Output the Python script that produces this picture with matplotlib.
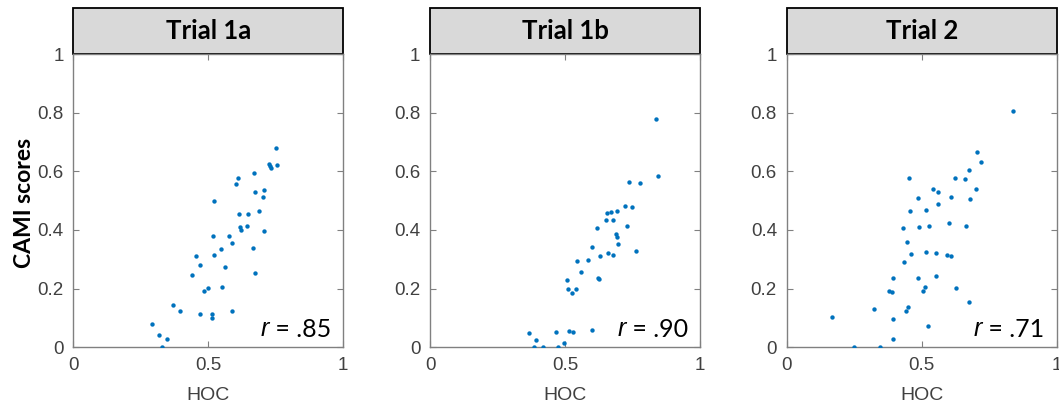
import matplotlib.pyplot as plt
from matplotlib.patches import Rectangle

# HOC vs CAMI scores
hoc_1a = [0.293, 0.316, 0.346, 0.328, 0.369, 0.394, 0.440, 0.456, 0.470, 0.470,
          0.483, 0.499, 0.512, 0.514, 0.517, 0.522, 0.522, 0.547, 0.552, 0.563,
          0.575, 0.589, 0.588, 0.604, 0.609, 0.612, 0.617, 0.622, 0.643, 0.647,
          0.664, 0.670, 0.672, 0.672, 0.688, 0.702, 0.706, 0.707, 0.723, 0.728,
          0.733, 0.749, 0.754]
cami_1a = [0.081, 0.041, 0.030, 0.000, 0.143, 0.124, 0.245, 0.310, 0.281, 0.115,
           0.191, 0.203, 0.112, 0.101, 0.380, 0.314, 0.500, 0.335, 0.207, 0.274,
           0.378, 0.356, 0.123, 0.557, 0.578, 0.456, 0.410, 0.400, 0.414, 0.456,
           0.339, 0.594, 0.530, 0.255, 0.465, 0.514, 0.537, 0.398, 0.624, 0.619,
           0.611, 0.678, 0.623]

hoc_1b = [0.366, 0.385, 0.394, 0.417, 0.467, 0.474, 0.496, 0.509, 0.512, 0.514,
          0.526, 0.530, 0.540, 0.543, 0.559, 0.587, 0.599, 0.601, 0.618, 0.621,
          0.627, 0.630, 0.652, 0.656, 0.661, 0.671, 0.677, 0.678, 0.688, 0.693,
          0.694, 0.698, 0.724, 0.731, 0.736, 0.748, 0.764, 0.777, 0.838, 0.845]
cami_1b = [0.048, 0.000, 0.024, 0.000, 0.052, 0.000, 0.015, 0.230, 0.198, 0.057,
           0.184, 0.052, 0.198, 0.293, 0.256, 0.298, 0.059, 0.342, 0.406, 0.237,
           0.234, 0.311, 0.435, 0.459, 0.323, 0.461, 0.314, 0.435, 0.385, 0.375,
           0.466, 0.352, 0.483, 0.414, 0.564, 0.480, 0.327, 0.560, 0.777, 0.583]

hoc_2 = [0.169, 0.251, 0.322, 0.347, 0.379, 0.390, 0.393, 0.393, 0.393, 0.432,
         0.436, 0.442, 0.446, 0.448, 0.452, 0.457, 0.462, 0.486, 0.488, 0.489,
         0.506, 0.511, 0.516, 0.516, 0.522, 0.527, 0.541, 0.553, 0.554, 0.562,
         0.562, 0.594, 0.601, 0.609, 0.609, 0.622, 0.627, 0.662, 0.665, 0.677,
         0.677, 0.680, 0.700, 0.704, 0.720, 0.838]
cami_2 = [0.102, 0.000, 0.130, 0.000, 0.192, 0.190, 0.235, 0.097, 0.027, 0.407,
          0.292, 0.123, 0.359, 0.139, 0.578, 0.464, 0.318, 0.237, 0.510, 0.411,
          0.191, 0.204, 0.324, 0.468, 0.073, 0.414, 0.540, 0.323, 0.244, 0.531,
          0.490, 0.315, 0.425, 0.312, 0.512, 0.576, 0.202, 0.574, 0.415, 0.156,
          0.603, 0.505, 0.540, 0.665, 0.631, 0.806]

titles = ["Trial 1a", "Trial 1b", "Trial 2"]
r_labels = [".85", ".90", ".71"]
panels = [(hoc_1a, cami_1a), (hoc_1b, cami_1b), (hoc_2, cami_2)]

W, H = 1059, 404
fig = plt.figure(figsize=(W / 100, H / 100), dpi=100)

lefts = [73.3, 430, 786.7]
ax_w = 270
ax_bottom = 347.3
ax_h = 293.3
box_h = 46

for i, (xs, ys) in enumerate(panels):
    ax = fig.add_axes([lefts[i] / W, (H - ax_bottom) / H, ax_w / W, ax_h / H])
    ax.scatter(xs, ys, s=10, color='#0072BD', linewidths=0, zorder=3)
    ax.set_xlim(0, 1)
    ax.set_ylim(0, 1)
    ax.set_xticks([0, 0.5, 1])
    ax.set_xticklabels(["0", "0.5", "1"])
    ax.set_yticks([0, 0.2, 0.4, 0.6, 0.8, 1])
    ax.set_yticklabels(["0", "0.2", "0.4", "0.6", "0.8", "1"])
    ax.tick_params(direction='in', length=4, width=0.8, color='#808080',
                   top=True, right=True, labelsize=13.5, labelcolor='#404040', pad=7)
    for lab in ax.get_xticklabels() + ax.get_yticklabels():
        lab.set_family('Liberation Sans')
    for sp in ax.spines.values():
        sp.set_color('#808080')
        sp.set_linewidth(1.0)
    ax.set_xlabel("HOC", fontsize=14, color='#404040', family='Liberation Sans', labelpad=9)

    # gray title strip above each panel
    rect = Rectangle((0, 1), 1, box_h / ax_h, transform=ax.transAxes,
                     facecolor='#d9d9d9', edgecolor='black', linewidth=1.3, clip_on=False)
    ax.add_patch(rect)
    ax.text(0.5, 1 + box_h / ax_h / 2, titles[i], transform=ax.transAxes,
            ha='center', va='center', fontsize=18.5, fontweight='bold', family='Lato')

    # "r = .85": value part right aligned, italic r placed just left of it
    t = ax.text(0.955, 0.035, " = " + r_labels[i], transform=ax.transAxes,
                ha='right', va='baseline', fontsize=18, family='Lato')
    ax.annotate("r", xy=(0, 0), xycoords=t, ha='right', va='bottom',
                fontsize=18, family='Liberation Sans', style='italic')

fig.text(25 / W, 1 - 203 / H, "CAMI scores", rotation=90, ha='center', va='center',
         fontsize=16.5, fontweight='bold', family='Lato')

fig.savefig("out.png", dpi=100)
